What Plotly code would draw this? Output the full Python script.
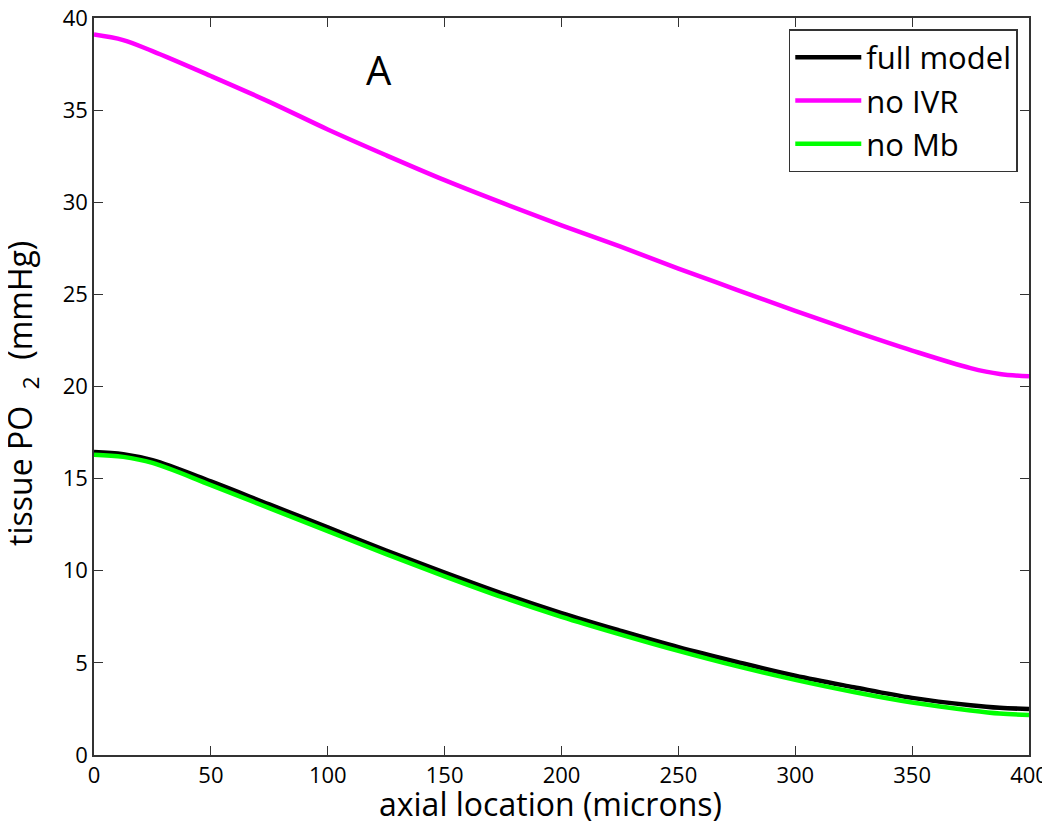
import plotly.graph_objects as go

_FONT = "Open Sans, Noto Sans, sans-serif"

# axial location (microns)
x_um = [0, 12.5, 25, 50, 75, 100, 125, 150, 175, 200, 225, 250, 275, 300, 325, 350,
        375, 387.5, 400]

# tissue PO2 (mmHg)
full_model = [16.45, 16.33, 16.0, 14.85, 13.6, 12.35, 11.1, 9.9, 8.75, 7.7, 6.75, 5.85,
              5.05, 4.3, 3.68, 3.1, 2.7, 2.56, 2.5]
no_ivr = [39.1, 38.8, 38.2, 36.85, 35.45, 33.95, 32.55, 31.2, 29.95, 28.75, 27.6, 26.4,
          25.25, 24.1, 23.0, 21.95, 21.0, 20.68, 20.55]
no_mb = [16.3, 16.18, 15.85, 14.65, 13.4, 12.15, 10.9, 9.7, 8.55, 7.5, 6.55, 5.65, 4.82,
         4.08, 3.42, 2.85, 2.42, 2.25, 2.17]

series = [
    ("full model", full_model, "#000000"),
    ("no IVR", no_ivr, "#ff00ff"),
    ("no Mb", no_mb, "#00ff00"),
]

fig = go.Figure()
for name, vals, color in series:
    fig.add_trace(
        go.Scatter(
            x=x_um,
            y=vals,
            mode="lines",
            name=name,
            line=dict(color=color, width=4.5, shape="spline", smoothing=1.0),
        )
    )

axis_common = dict(
    showgrid=False,
    zeroline=False,
    showline=True,
    linecolor="#333333",
    linewidth=1.5,
    mirror="ticks",
    ticks="inside",
    ticklen=9,
    tickwidth=1.2,
    tickcolor="#333333",
    tickfont=dict(size=22, color="#000000"),
    ticklabeloverflow="allow",
    automargin=False,
)

fig.update_layout(
    width=1050,
    height=830,
    paper_bgcolor="#ffffff",
    plot_bgcolor="#ffffff",
    font=dict(family=_FONT, color="#000000"),
    margin=dict(l=86, r=29, t=10, b=83),
    xaxis=dict(range=[0, 400], tick0=0, dtick=50, **axis_common),
    yaxis=dict(range=[0, 40], tick0=0, dtick=5, **axis_common),
    legend=dict(
        x=0.988,
        y=0.985,
        xanchor="right",
        yanchor="top",
        bgcolor="#ffffff",
        bordercolor="#333333",
        borderwidth=1.5,
        font=dict(size=31, color="#000000"),
        itemwidth=66,
        tracegroupgap=0,
    ),
    annotations=[
        dict(text="A", x=122, y=37.2, xref="x", yref="y", showarrow=False,
             font=dict(size=40, color="#000000")),
        dict(text="axial location (microns)", x=0.488, y=-0.066, xref="paper",
             yref="paper", showarrow=False, yanchor="middle",
             font=dict(size=32, color="#000000")),
        dict(text="tissue PO  <sub>2</sub>  (mmHg)", x=-0.077, y=0.49, xref="paper",
             yref="paper", showarrow=False, textangle=-90, xanchor="center",
             yanchor="middle", font=dict(size=32, color="#000000")),
    ],
)

fig.write_html("out.html")
